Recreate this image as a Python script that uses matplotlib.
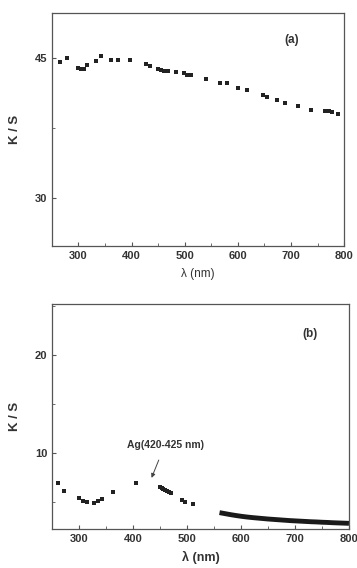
import numpy as np
import matplotlib.pyplot as plt
from matplotlib.ticker import MultipleLocator

plt.rcParams['font.family'] = ['Liberation Sans', 'DejaVu Sans']

# panel (a) data
wl_a = [266, 279, 300, 305, 311, 317, 333, 343, 361, 375, 398, 428, 435, 449, 455,
        462, 468, 484, 498, 505, 512, 540, 567, 580, 601, 618, 647, 655, 673, 688,
        713, 737, 764, 772, 777, 789]
ks_a = [44.6, 45.0, 43.9, 43.8, 43.8, 44.2, 44.7, 45.2, 44.8, 44.8, 44.8, 44.3, 44.1,
        43.8, 43.7, 43.6, 43.6, 43.5, 43.4, 43.2, 43.1, 42.7, 42.3, 42.25, 41.8, 41.5,
        41.0, 40.8, 40.5, 40.1, 39.8, 39.4, 39.3, 39.25, 39.2, 39.0]

# panel (b) data
wl_b = [260, 272, 300, 306, 314, 328, 334, 342, 363, 406, 449, 453, 456, 459, 462,
        466, 470, 491, 496, 510]
ks_b = [6.95, 6.2, 5.42, 5.18, 5.02, 4.97, 5.12, 5.32, 6.06, 6.95, 6.6, 6.48, 6.37,
        6.27, 6.17, 6.05, 5.93, 5.25, 5.08, 4.81]

wl_curve = [560, 570, 580, 590, 600, 610, 620, 630, 640, 650, 660, 670, 680, 690,
            700, 710, 720, 730, 740, 750, 760, 770, 780, 790, 800]
ks_curve = [3.95, 3.85, 3.75, 3.66, 3.58, 3.51, 3.45, 3.40, 3.35, 3.30, 3.26, 3.22,
            3.18, 3.14, 3.11, 3.08, 3.05, 3.02, 3.00, 2.97, 2.95, 2.92, 2.90, 2.88, 2.86]

txt = '#333333'
fig = plt.figure(figsize=(3.57, 5.68), dpi=100)

ax1 = fig.add_axes([0.145, 0.567, 0.819, 0.41])
ax2 = fig.add_axes([0.1465, 0.069, 0.831, 0.395])

for ax in (ax1, ax2):
    for s in ax.spines.values():
        s.set_color('#555555')
        s.set_linewidth(0.9)
    ax.tick_params(which='both', direction='in', colors='#555555', labelcolor=txt,
                   labelsize=8, top=False, right=False)
    ax.tick_params(which='major', length=3)
    ax.tick_params(which='minor', length=2)
    ax.set_xlim(250, 800)
    ax.xaxis.set_major_locator(MultipleLocator(100))
    ax.xaxis.set_minor_locator(MultipleLocator(50))

# (a)
ax1.plot(wl_a, ks_a, 's', color='#222222', markersize=3.5, markeredgewidth=0)
ax1.set_ylim(24.8, 49.8)
ax1.set_yticks([30, 45])
ax1.yaxis.set_minor_locator(MultipleLocator(7.5))
ax1.set_xticks([300, 400, 500, 600, 700, 800])
ax1.set_ylabel('K / S', fontsize=9.5, fontweight='bold', color=txt, labelpad=10)
ax1.set_xlabel('λ (nm)', fontsize=8.5, color=txt, labelpad=5)
ax1.text(0.82, 0.885, '(a)', transform=ax1.transAxes, fontsize=8.5,
         fontweight='bold', color=txt, ha='center', va='center')

# (b)
ax2.plot(wl_b, ks_b, 's', color='#222222', markersize=3.5, markeredgewidth=0)
ax2.plot(wl_curve, ks_curve, '-', color='#1a1a1a', linewidth=3.5, solid_capstyle='butt')
ax2.set_ylim(2.3, 25.2)
ax2.set_yticks([10, 20])
ax2.yaxis.set_minor_locator(MultipleLocator(5))
ax2.set_ylabel('K / S', fontsize=9.5, fontweight='bold', color=txt, labelpad=10)
ax2.set_xlabel('λ (nm)', fontsize=9, fontweight='bold', color=txt, labelpad=5)
ax2.text(0.87, 0.87, '(b)', transform=ax2.transAxes, fontsize=8.5,
         fontweight='bold', color=txt, ha='center', va='center')
ax2.annotate('Ag(420-425 nm)', xy=(434, 7.5), xytext=(459, 10.9),
             fontsize=7.5, fontweight='bold', color=txt, ha='center', va='center',
             arrowprops=dict(arrowstyle='-|>', color='#444444', lw=0.7,
                             mutation_scale=6, shrinkA=6, shrinkB=0))

for ax in (ax1, ax2):
    for lab in ax.get_xticklabels() + ax.get_yticklabels():
        lab.set_fontweight('bold')

fig.savefig('out.png', dpi=100)
